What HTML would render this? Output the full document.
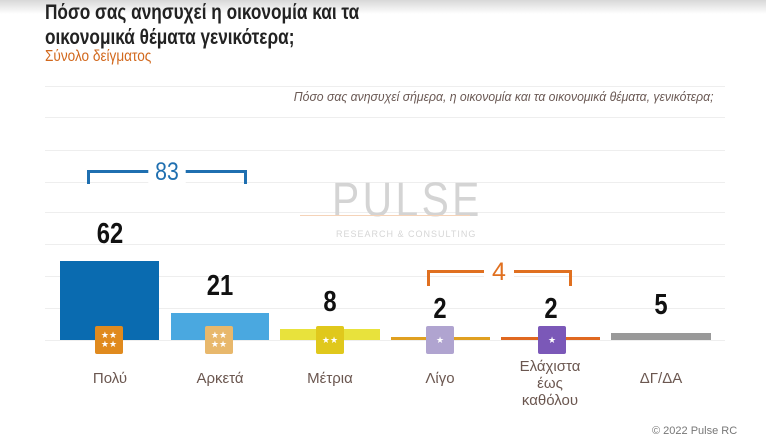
<!DOCTYPE html>
<html><head><meta charset="utf-8"><style>
body{margin:0;width:766px;height:445px;background:#fff;position:relative;overflow:hidden;font-family:"Liberation Sans",sans-serif}
.a{position:absolute}
.g{position:absolute;left:45px;width:680px;height:1px;background:#eeeeee}
.v{position:absolute;width:100px;text-align:center;font-weight:bold;font-size:29px;color:#111;transform:scaleX(0.82)}
.l{position:absolute;width:110px;text-align:center;font-size:15px;color:#6b5750;line-height:17px}
.ic{position:absolute;width:28px;height:28px;top:326px;border-radius:2px;color:#fff;font-size:9px;line-height:9px;text-align:center;display:flex;align-items:center;justify-content:center;flex-wrap:wrap}
</style></head><body>
<div class="a" style="left:0;top:0;width:766px;height:14px;background:linear-gradient(#d8d8d8,#fff)"></div>
<div class="a" style="left:45px;top:0px;font-size:21px;font-weight:bold;line-height:25px;color:#222;transform:scaleX(0.82);transform-origin:left top;white-space:nowrap">Πόσο σας ανησυχεί η οικονομία και τα<br>οικονομικά θέματα γενικότερα;</div>
<div class="a" style="left:45px;top:48px;font-size:16px;color:#d2691e;transform:scaleX(0.85);transform-origin:left top;white-space:nowrap">Σύνολο δείγματος</div>
<div class="g" style="top:86px"></div><div class="g" style="top:117px"></div><div class="g" style="top:150px"></div>
<div class="g" style="top:182px"></div><div class="g" style="top:212px"></div><div class="g" style="top:244px"></div>
<div class="g" style="top:276px"></div><div class="g" style="top:308px"></div><div class="g" style="top:340px"></div>
<div class="a" style="right:52px;top:89px;font-size:13px;font-style:italic;color:#6b5a55;transform:scaleX(0.94);transform-origin:right top;white-space:nowrap">Πόσο σας ανησυχεί σήμερα, η οικονομία και τα οικονομικά θέματα, γενικότερα;</div>
<div class="a" style="left:332px;top:176px;font-size:48px;color:#d4d4d4;letter-spacing:4px;line-height:50px;transform:scaleX(0.85);transform-origin:left top">PULSE</div>
<div class="a" style="left:336px;top:229px;font-size:9px;color:#d6d6d6;letter-spacing:1px">RESEARCH &amp; CONSULTING</div>
<div class="a" style="left:300px;top:215px;width:170px;height:1px;background:#f5d3b8"></div>
<div class="a" style="left:87px;top:170px;width:160px;height:14px;border:3px solid #1f6fb0;border-bottom:none;box-sizing:border-box"></div>
<div class="a" style="left:145px;top:158px;width:44px;background:#fff;text-align:center;font-size:25px;color:#1f6fb0;transform:scaleX(0.85)">83</div>
<div class="a" style="left:427px;top:270px;width:145px;height:16px;border:3px solid #e07020;border-bottom:none;box-sizing:border-box"></div>
<div class="a" style="left:484px;top:258px;width:30px;background:#fff;text-align:center;font-size:25px;color:#e07020">4</div>
<div class="a" style="left:60px;top:261px;width:99px;height:79px;background:#0a6bb0"></div>
<div class="a" style="left:171px;top:313px;width:98px;height:27px;background:#4aa8e0"></div>
<div class="a" style="left:280px;top:329px;width:100px;height:11px;background:#e8e23c"></div>
<div class="a" style="left:391px;top:337px;width:99px;height:3px;background:#e0a020"></div>
<div class="a" style="left:501px;top:337px;width:99px;height:3px;background:#e06820"></div>
<div class="a" style="left:611px;top:333px;width:100px;height:7px;background:#999"></div>
<div class="v" style="left:60px;top:218px">62</div>
<div class="v" style="left:170px;top:270px">21</div>
<div class="v" style="left:280px;top:286px">8</div>
<div class="v" style="left:390px;top:293px">2</div>
<div class="v" style="left:501px;top:293px">2</div>
<div class="v" style="left:611px;top:289px">5</div>
<div class="ic" style="left:95px;background:#e08a1e">★★<br>★★</div>
<div class="ic" style="left:205px;background:#e8b86c">★★<br>★★</div>
<div class="ic" style="left:316px;background:#e0c81c">★★</div>
<div class="ic" style="left:426px;background:#b0a4d0">★</div>
<div class="ic" style="left:538px;background:#7b58b8">★</div>
<div class="l" style="left:55px;top:370px">Πολύ</div>
<div class="l" style="left:165px;top:370px">Αρκετά</div>
<div class="l" style="left:275px;top:370px">Μέτρια</div>
<div class="l" style="left:385px;top:370px">Λίγο</div>
<div class="l" style="left:495px;top:358px">Ελάχιστα<br>έως<br>καθόλου</div>
<div class="l" style="left:606px;top:370px">ΔΓ/ΔΑ</div>
<div class="a" style="left:652px;top:425px;font-size:11px;color:#777">© 2022 Pulse RC</div>
</body></html>
